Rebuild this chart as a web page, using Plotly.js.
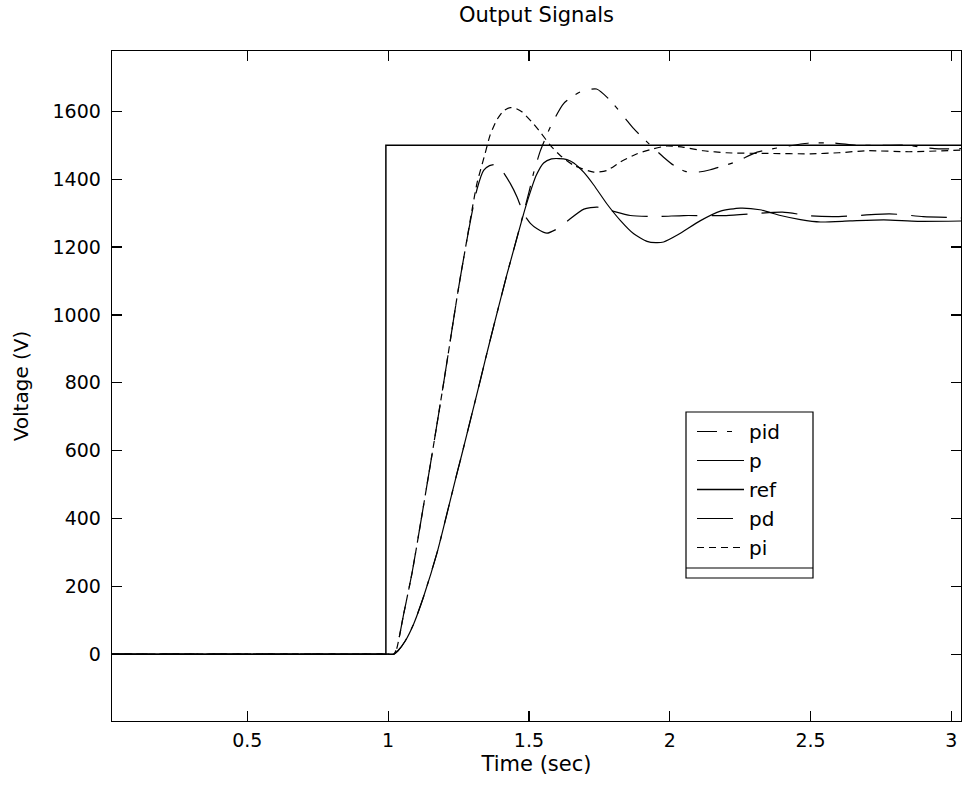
<!DOCTYPE html>
<html>
<head>
<meta charset="utf-8">
<script src="https://cdn.plot.ly/plotly-3.0.1.min.js"></script>
<style>html,body{margin:0;padding:0;background:#fff;}#chart{width:962px;height:794px;}</style>
</head>
<body>
<div id="chart"></div>
<script>
// ---- data ----
const refT = [0.02, 0.992, 0.992, 3.04];
const refV = [0, 0, 1500, 1500];

const pidT = [0.02, 0.5, 0.9, 1.0, 1.02, 1.035, 1.06, 1.091, 1.126, 1.174, 1.215, 1.245, 1.262, 1.292, 1.328, 1.345, 1.375, 1.404, 1.422, 1.45, 1.48, 1.50, 1.517, 1.541, 1.576, 1.623, 1.683, 1.74, 1.789, 1.848, 1.872, 1.919, 1.978, 2.014, 2.055, 2.10, 2.144, 2.233, 2.31, 2.38, 2.49, 2.58, 2.665, 2.76, 2.84, 2.94, 3.04];
const pidV = [0, 0, 0, 0, 0, 10, 38, 90, 170, 300, 435, 535, 590, 690, 810, 868, 968, 1062, 1120, 1205, 1298, 1362, 1420, 1485, 1554, 1623, 1658, 1666, 1632, 1573, 1549, 1510, 1465, 1441, 1423, 1421, 1428, 1451, 1480, 1492, 1506, 1507, 1500, 1500, 1500, 1490, 1490];

const pT = [0.02, 0.5, 0.9, 1.0, 1.02, 1.035, 1.06, 1.091, 1.126, 1.174, 1.215, 1.245, 1.262, 1.292, 1.328, 1.345, 1.375, 1.404, 1.422, 1.45, 1.48, 1.50, 1.525, 1.552, 1.58, 1.606, 1.635, 1.659, 1.695, 1.73, 1.777, 1.825, 1.872, 1.919, 1.95, 1.978, 2.03, 2.109, 2.18, 2.25, 2.32, 2.393, 2.464, 2.535, 2.64, 2.76, 2.88, 3.04];
const pV = [0, 0, 0, 0, 0, 10, 38, 90, 170, 300, 435, 535, 590, 690, 810, 868, 968, 1062, 1120, 1205, 1295, 1350, 1410, 1448, 1460, 1461, 1458, 1448, 1420, 1383, 1327, 1278, 1239, 1217, 1213, 1215, 1237, 1278, 1306, 1315, 1310, 1293, 1281, 1274, 1277, 1280, 1276, 1277];

const pdT = [0.02, 0.5, 0.9, 1.0, 1.02, 1.03, 1.055, 1.085, 1.12, 1.16, 1.20, 1.25, 1.274, 1.295, 1.316, 1.339, 1.36, 1.38, 1.404, 1.434, 1.458, 1.481, 1.505, 1.529, 1.564, 1.611, 1.641, 1.695, 1.742, 1.789, 1.86, 1.95, 2.05, 2.2, 2.4, 2.5, 2.6, 2.78, 2.9, 3.04];
const pdV = [0, 0, 0, 0, 0, 15, 118, 240, 410, 610, 815, 1080, 1195, 1290, 1372, 1426, 1440, 1443, 1426, 1387, 1347, 1298, 1270, 1254, 1241, 1259, 1280, 1312, 1318, 1308, 1293, 1290, 1293, 1293, 1303, 1292, 1290, 1298, 1290, 1286];

const piT = [0.02, 0.5, 0.9, 1.0, 1.02, 1.03, 1.055, 1.085, 1.12, 1.16, 1.20, 1.25, 1.274, 1.30, 1.316, 1.344, 1.362, 1.386, 1.41, 1.434, 1.455, 1.476, 1.511, 1.54, 1.576, 1.611, 1.659, 1.73, 1.777, 1.825, 1.884, 1.943, 1.99, 2.05, 2.12, 2.2, 2.35, 2.5, 2.6, 2.7, 2.85, 3.04];
const piV = [0, 0, 0, 0, 0, 15, 118, 240, 410, 610, 815, 1080, 1195, 1320, 1390, 1475, 1530, 1575, 1602, 1611, 1608, 1598, 1568, 1539, 1500, 1470, 1441, 1421, 1426, 1451, 1475, 1490, 1498, 1494, 1484, 1478, 1476, 1475, 1478, 1484, 1481, 1486];

const seriesNames = ['pid', 'p', 'ref', 'pd', 'pi'];
const xTickVals = [0.5, 1, 1.5, 2, 2.5, 3];
const xTickText = ['0.5', '1', '1.5', '2', '2.5', '3'];
const yTickVals = [0, 200, 400, 600, 800, 1000, 1200, 1400, 1600];
const yTickText = ['0', '200', '400', '600', '800', '1000', '1200', '1400', '1600'];

// ---- layout helpers (pixel -> paper) ----
const PL = 112, PR = 961, PT = 51, PB = 721;
const px2x = px => (px - PL) / (PR - PL);
const py2y = py => (PB - py) / (PB - PT);
const FONT = 'DejaVu Sans, Liberation Sans, Arial, sans-serif';

const lineCommon = {color: '#000', width: 1.2};
const traces = [
  {x: pidT, y: pidV, name: seriesNames[0], mode: 'lines', line: Object.assign({}, lineCommon, {dash: '20px,10px,5px,12px', shape: 'spline', smoothing: 0.6})},
  {x: pT, y: pV, name: seriesNames[1], mode: 'lines', line: Object.assign({}, lineCommon, {shape: 'spline', smoothing: 0.6})},
  {x: refT, y: refV, name: seriesNames[2], mode: 'lines', line: {color: '#000', width: 1.5}},
  {x: pdT, y: pdV, name: seriesNames[3], mode: 'lines', line: Object.assign({}, lineCommon, {dash: '36px,14px', shape: 'spline', smoothing: 0.6})},
  {x: piT, y: piV, name: seriesNames[4], mode: 'lines', line: Object.assign({}, lineCommon, {dash: '7px,5px', shape: 'spline', smoothing: 0.6})}
];

const axisCommon = {
  showline: true, mirror: 'ticks', linecolor: '#000', linewidth: 1.3,
  ticks: 'inside', ticklen: 10, tickwidth: 1.2, tickcolor: '#000',
  showgrid: false, zeroline: false, tickfont: {family: FONT, size: 19, color: '#000'}
};

const layout = {
  width: 962, height: 794,
  margin: {l: PL, r: 962 - PR, t: PT, b: 794 - PB},
  paper_bgcolor: '#fff', plot_bgcolor: '#fff',
  title: {text: 'Output Signals', font: {family: FONT, size: 21, color: '#000'}, x: 0.5, xref: 'paper', y: 1 - 15 / 794, yref: 'container', yanchor: 'middle'},
  xaxis: Object.assign({}, axisCommon, {range: [0.0195, 3.034], tickvals: xTickVals, ticktext: xTickText, ticklabelstandoff: 2,
    title: {text: 'Time (sec)', font: {family: FONT, size: 21, color: '#000'}, standoff: 6}}),
  yaxis: Object.assign({}, axisCommon, {range: [-197, 1778], tickvals: yTickVals, ticktext: yTickText, ticklabelstandoff: 6,
    title: {text: 'Voltage (V)', font: {family: FONT, size: 20, color: '#000'}, standoff: 18}}),
  showlegend: true,
  legend: {x: px2x(692), y: py2y(412), xanchor: 'left', yanchor: 'top', bgcolor: 'rgba(0,0,0,0)', borderwidth: 0,
    font: {family: FONT, size: 20, color: '#000'}, itemwidth: 47, traceorder: 'normal'},
  shapes: [
    {type: 'rect', xref: 'paper', yref: 'paper', x0: px2x(686), x1: px2x(813), y0: py2y(578), y1: py2y(412), line: {color: '#000', width: 1.2}, fillcolor: '#fff', layer: 'above'},
    {type: 'line', xref: 'paper', yref: 'paper', x0: px2x(686), x1: px2x(813), y0: py2y(568), y1: py2y(568), line: {color: '#000', width: 1.2}, layer: 'above'}
  ]
};

Plotly.newPlot('chart', traces, layout, {staticPlot: true, displayModeBar: false});
</script>
</body>
</html>
